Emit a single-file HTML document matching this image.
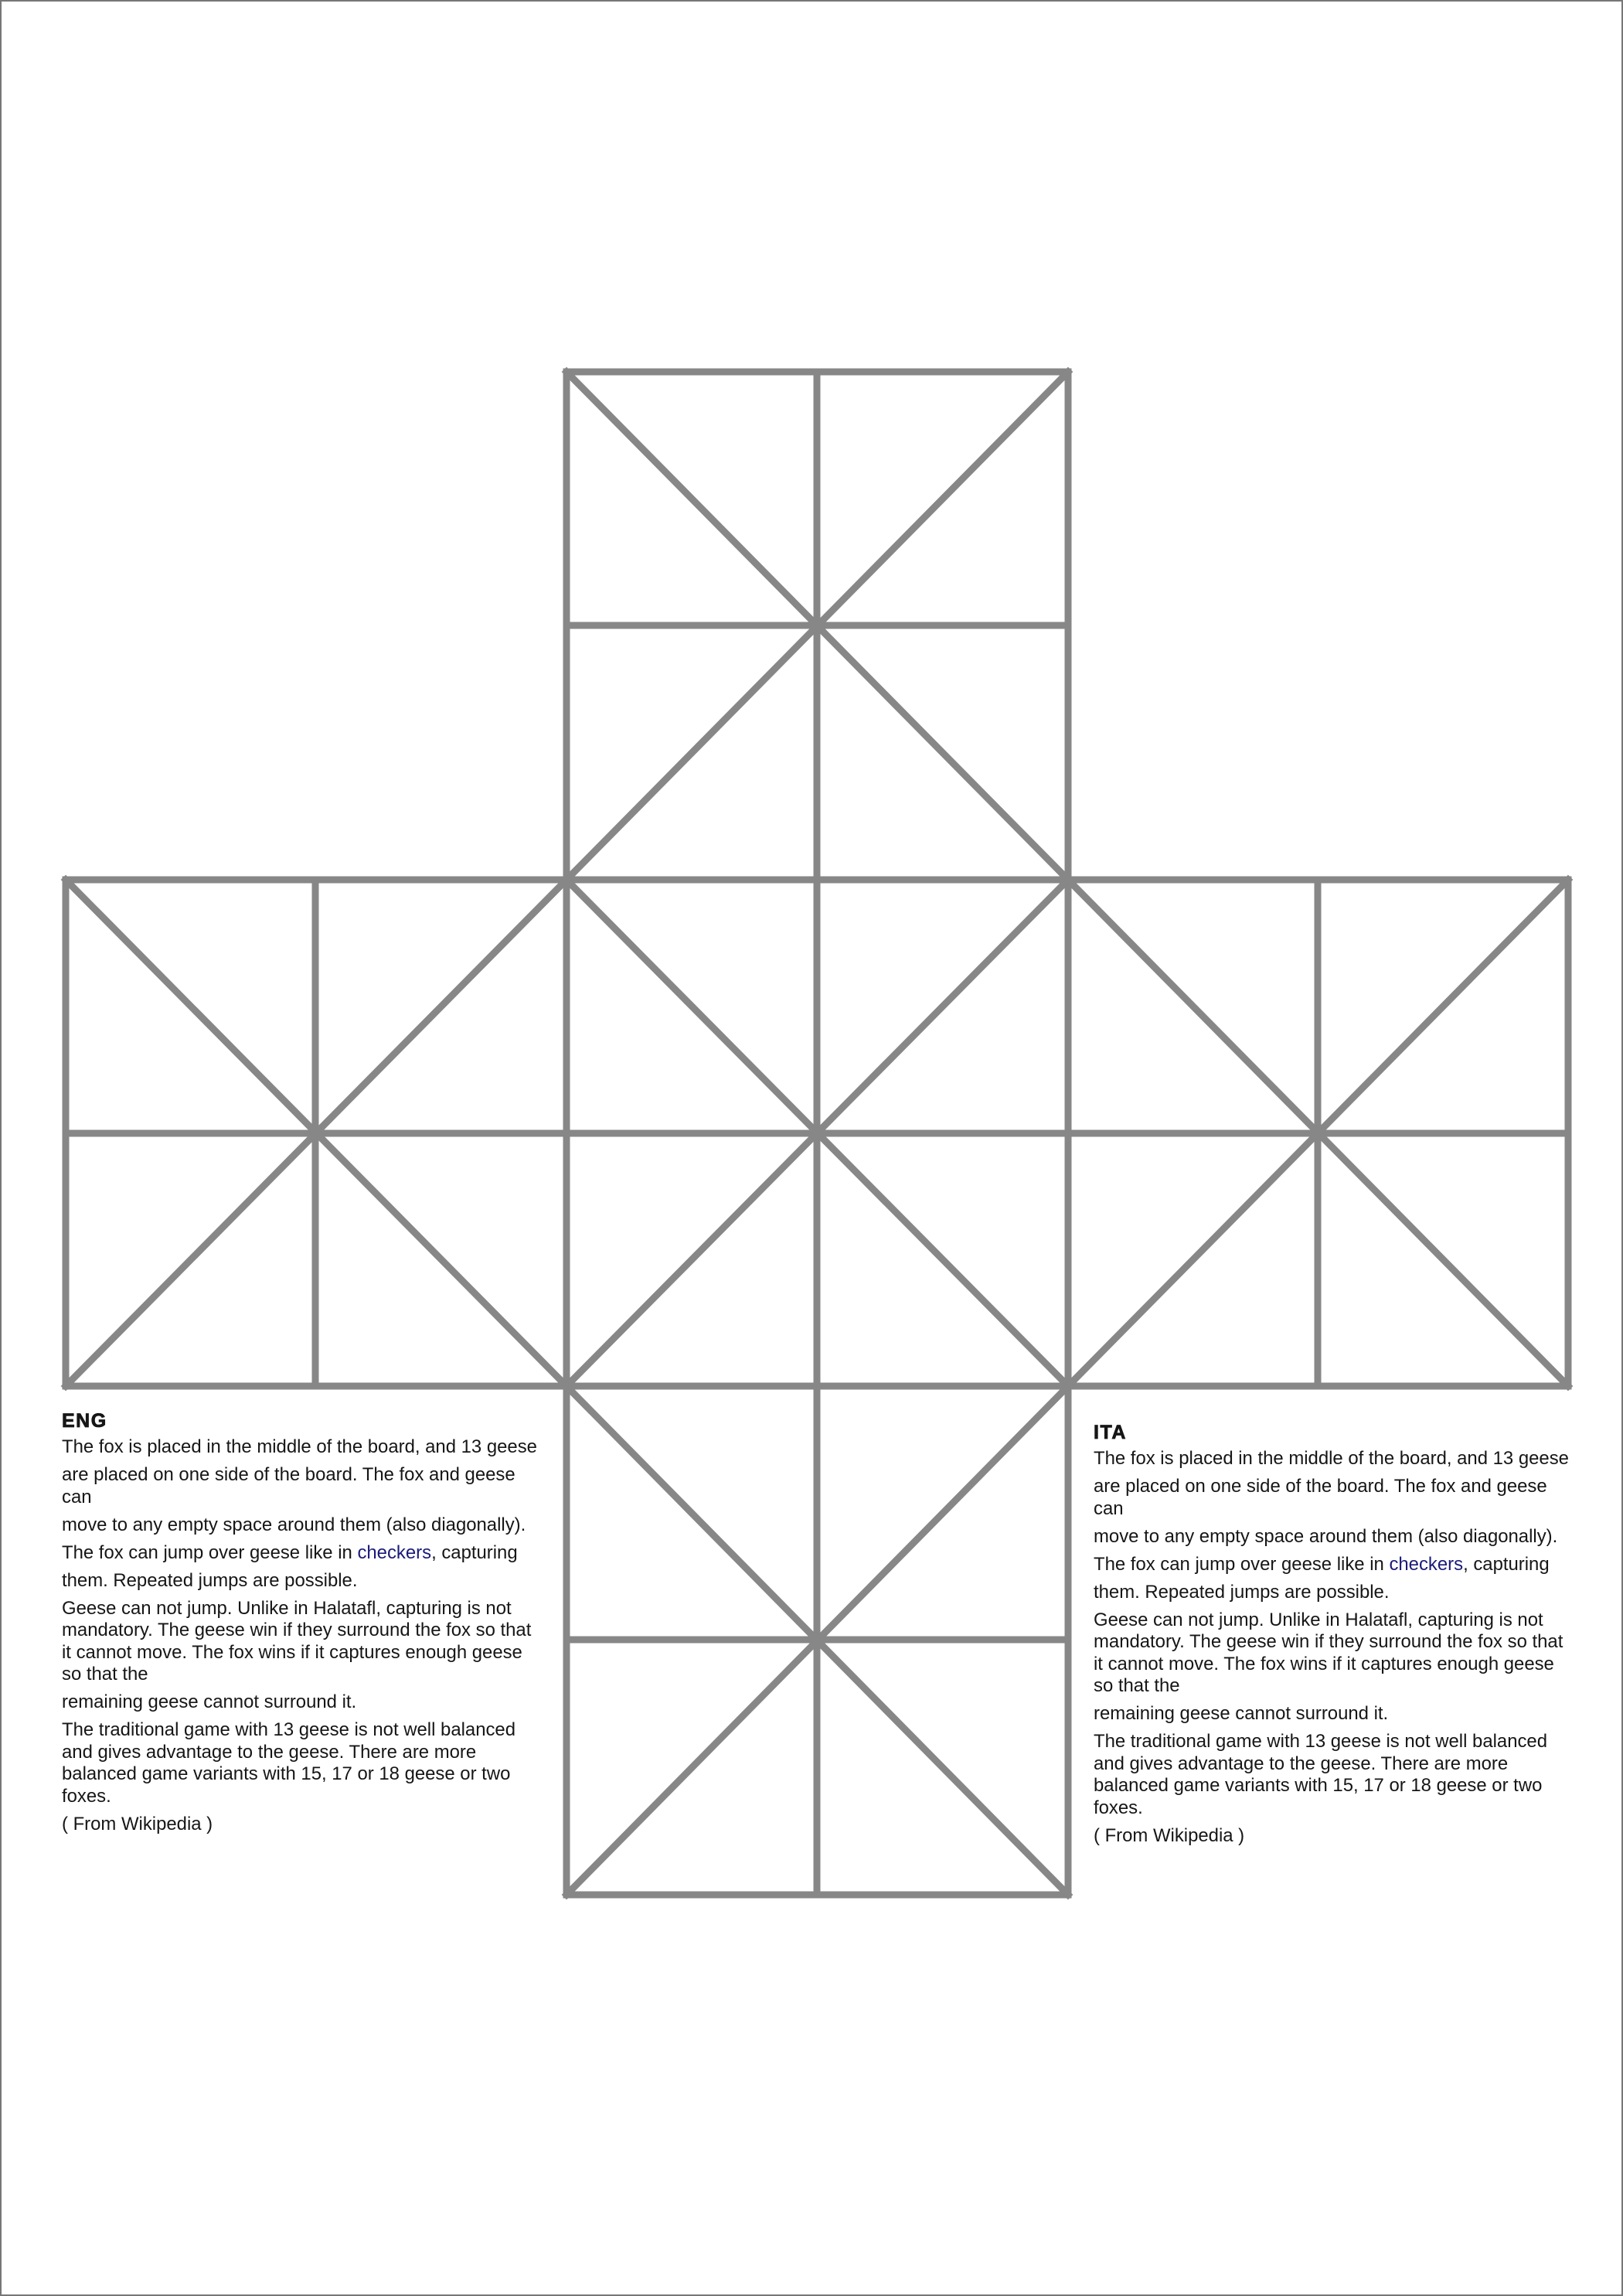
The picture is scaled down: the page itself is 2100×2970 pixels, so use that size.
<!DOCTYPE html>
<html><head><meta charset="utf-8"><style>
html,body{margin:0;padding:0;background:#fff;}
#page{position:relative;width:2100px;height:2970px;box-sizing:border-box;border:2px solid #777;overflow:hidden;}
svg{position:absolute;left:0;top:0;}
.txt{position:absolute;font-family:"Liberation Sans",Arial,sans-serif;font-size:23.9px;color:#161616;white-space:nowrap;line-height:28.5px;}
.txt h3{margin:0 0 6px 0;font-size:25px;font-weight:900;letter-spacing:1.5px;line-height:28px;-webkit-text-stroke:0.8px #161616;}
.txt p{margin:0 0 7.5px 0;}
.txt a{color:#1b1b7a;text-decoration:none;}
</style></head><body>
<div id="page">
<svg id="board" width="2100" height="2970"></svg>
<div class="txt" style="left:78px;top:1822px;">
<h3>ENG</h3>
<p>The fox is placed in the middle of the board, and 13 geese</p>
<p>are placed on one side of the board. The fox and geese<br>can</p>
<p>move to any empty space around them (also diagonally).</p>
<p>The fox can jump over geese like in <a>checkers</a>, capturing</p>
<p>them. Repeated jumps are possible.</p>
<p>Geese can not jump. Unlike in Halatafl, capturing is not<br>mandatory. The geese win if they surround the fox so that<br>it cannot move. The fox wins if it captures enough geese<br>so that the</p>
<p>remaining geese cannot surround it.</p>
<p>The traditional game with 13 geese is not well balanced<br>and gives advantage to the geese. There are more<br>balanced game variants with 15, 17 or 18 geese or two<br>foxes.</p>
<p>( From Wikipedia )</p>
</div>
<div class="txt" style="left:1413px;top:1837px;">
<h3>ITA</h3>
<p>The fox is placed in the middle of the board, and 13 geese</p>
<p>are placed on one side of the board. The fox and geese<br>can</p>
<p>move to any empty space around them (also diagonally).</p>
<p>The fox can jump over geese like in <a>checkers</a>, capturing</p>
<p>them. Repeated jumps are possible.</p>
<p>Geese can not jump. Unlike in Halatafl, capturing is not<br>mandatory. The geese win if they surround the fox so that<br>it cannot move. The fox wins if it captures enough geese<br>so that the</p>
<p>remaining geese cannot surround it.</p>
<p>The traditional game with 13 geese is not well balanced<br>and gives advantage to the geese. There are more<br>balanced game variants with 15, 17 or 18 geese or two<br>foxes.</p>
<p>( From Wikipedia )</p>
</div>
</div>
<script>
// grid column/row positions (board units 0..6)
const colPx = [83, 406, 731, 1055, 1380, 1703, 2027];
const rowPx = [479, 807, 1136, 1464, 1791, 2119, 2449];
// straight line segments in grid units: [c1,r1,c2,r2]
const gridLines = [
  [2,0,4,0],[2,1,4,1],[0,2,6,2],[0,3,6,3],[0,4,6,4],[2,5,4,5],[2,6,4,6],
  [2,0,2,6],[3,0,3,6],[4,0,4,6],[0,2,0,4],[1,2,1,4],[5,2,5,4],[6,2,6,4]
];
// 2x2 blocks with X diagonals: top-left corner in grid units
const blocks = [[2,0],[0,2],[2,2],[4,2],[2,4]];
const svg = document.getElementById('board');
const NS = 'http://www.w3.org/2000/svg';
const X = c => colPx[c];
const Y = r => rowPx[r];
function seg(c1,r1,c2,r2,name){
  const l = document.createElementNS(NS,'line');
  l.setAttribute('x1',X(c1));l.setAttribute('y1',Y(r1));
  l.setAttribute('x2',X(c2));l.setAttribute('y2',Y(r2));
  l.setAttribute('stroke','#878787');l.setAttribute('stroke-width','9');
  l.setAttribute('stroke-linecap','square');
  
  
  svg.appendChild(l);
}
gridLines.forEach(g => seg(g[0],g[1],g[2],g[3],'board-line'));
blocks.forEach(b => {
  seg(b[0],b[1],b[0]+2,b[1]+2,'board-diagonal');
  seg(b[0]+2,b[1],b[0],b[1]+2,'board-diagonal');
});
</script>
</body></html>
